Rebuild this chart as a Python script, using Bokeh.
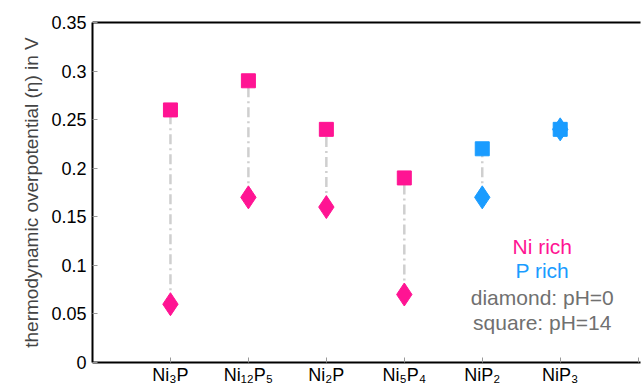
from bokeh.plotting import figure
from bokeh.models import (ColumnDataSource, FixedTicker, LinearAxis, Range1d,
                          CustomJSTickFormatter, Label)
from bokeh.embed import file_html
from bokeh.resources import INLINE

# ---- data ----
compounds = ["Ni₃P", "Ni₁₂P₅", "Ni₂P", "Ni₅P₄", "NiP₂", "NiP₃"]
positions = [1, 2, 3, 4, 5, 6]
square_ph14 = [0.26, 0.29, 0.24, 0.19, 0.22, 0.24]
diamond_ph0 = [0.06, 0.17, 0.16, 0.07, 0.17, 0.24]
group = ["Ni rich", "Ni rich", "Ni rich", "Ni rich", "P rich", "P rich"]
y_ticks = [0, 0.05, 0.1, 0.15, 0.2, 0.25, 0.3, 0.35]

PINK = "#ff1493"
BLUE = "#1a9cff"
GRAY_TXT = "#707070"
colors = [PINK if g == "Ni rich" else BLUE for g in group]

FONT = "Liberation Sans"

src = ColumnDataSource(dict(x=positions, sq=square_ph14, di=diamond_ph0, c=colors))

p = figure(width=643, height=390, output_backend="svg", toolbar_location=None,
           x_range=Range1d(0, 7.03), y_range=Range1d(0, 0.35),
           min_border_left=92, min_border_top=22, min_border_bottom=28,
           min_border_right=3)
p.outline_line_color = None
p.grid.grid_line_color = None
p.background_fill_color = "white"
p.border_fill_color = "white"

# connecting dash-dot lines
p.segment(x0="x", y0="di", x1="x", y1="sq", source=src, line_color="#cfcfcf",
          line_width=2.5, line_dash="10 4 2 4")

p.scatter(x="x", y="sq", source=src, marker="square", size=14,
          fill_color="c", line_color="c")
p.scatter(x="x", y="di", source=src, marker="diamond", size=23,
          fill_color="c", line_color="c")

# axes styling
xa = p.xaxis[0]
xa.ticker = FixedTicker(ticks=positions + [7])
xa.major_label_overrides = {pos: lab for pos, lab in zip(positions, compounds)}
xa.major_label_overrides[7] = ""
ya = p.yaxis[0]
ya.ticker = FixedTicker(ticks=y_ticks)
ya.formatter = CustomJSTickFormatter(
    code="var s = tick.toFixed(2); s = s.replace(/0+$/, ''); return s.replace(/\\.$/, '');")
for ax in (xa, ya):
    ax.axis_line_width = 2
    ax.axis_line_color = "black"
    ax.major_tick_in = 5
    ax.major_tick_out = 0
    ax.major_tick_line_color = "#999999"
    ax.minor_tick_line_color = None
    ax.major_label_text_font = FONT
    ax.major_label_text_font_size = "18px"
    ax.major_label_text_color = "black"
xa.major_label_standoff = 2
xa.major_label_text_line_height = 1.0
ya.major_label_standoff = 6
ya.axis_label = "thermodynamic overpotential (η) in V"
ya.axis_label_text_font = FONT
ya.axis_label_text_font_style = "normal"
ya.axis_label_text_font_size = "19px"
ya.axis_label_standoff = 6

top = LinearAxis(ticker=FixedTicker(ticks=[]), axis_line_width=2,
                 axis_line_color="black", major_label_text_font_size="0px",
                 major_tick_line_color=None, minor_tick_line_color=None)
p.add_layout(top, "above")

# annotation texts
notes = [("Ni rich", PINK, 0.1194), ("P rich", BLUE, 0.0947),
         ("diamond: pH=0", GRAY_TXT, 0.0669), ("square: pH=14", GRAY_TXT, 0.0412)]
for txt, col, yv in notes:
    p.add_layout(Label(x=5.77, y=yv, text=txt, text_color=col, text_font=FONT,
                       text_font_size="21px", text_align="center",
                       text_baseline="middle"))

open("out.html", "w").write(file_html(p, INLINE))
